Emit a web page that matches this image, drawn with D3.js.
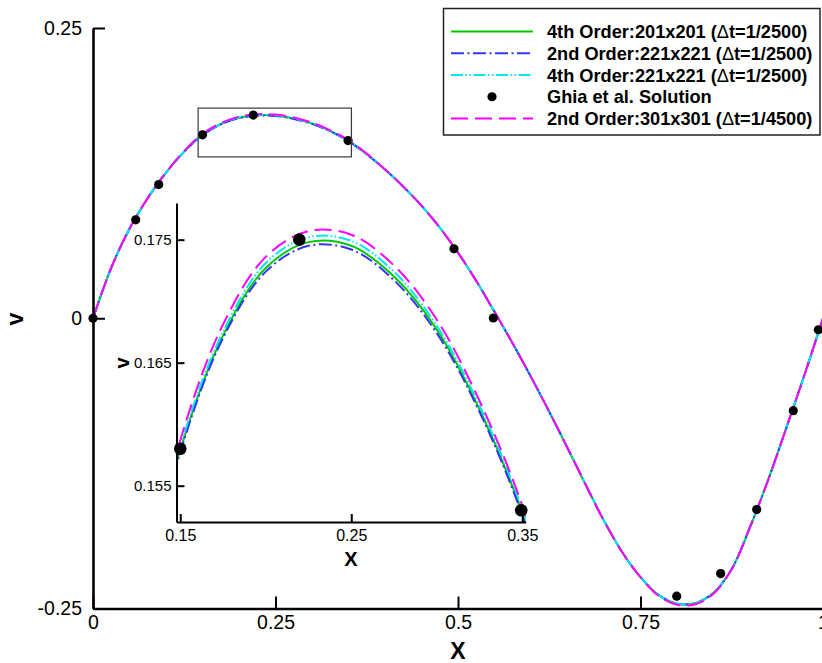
<!DOCTYPE html>
<html>
<head>
<meta charset="utf-8">
<script src="https://cdn.jsdelivr.net/npm/d3@7"></script>
<style>
  body { margin: 0; background: #fff; }
  svg { display: block; font-family: "Liberation Sans", Arial, Helvetica, sans-serif; }
</style>
</head>
<body>
<svg id="chart" width="822" height="663"></svg>
<script>
// ---- data: v-velocity along the horizontal centreline of the cavity ----
const xGrid = [0, 0.025, 0.05, 0.075, 0.1, 0.125, 0.15, 0.175, 0.2, 0.225, 0.25, 0.275, 0.3, 0.325, 0.35,
  0.375, 0.4, 0.425, 0.45, 0.475, 0.5, 0.525, 0.55, 0.575, 0.6, 0.625, 0.65, 0.675, 0.7, 0.725, 0.75,
  0.775, 0.8, 0.825, 0.85, 0.875, 0.9, 0.925, 0.95, 0.975, 1];

const vFourth201 = [0, 0.0435, 0.0771, 0.1035, 0.1255, 0.1435, 0.1579, 0.1672, 0.1727, 0.1748, 0.1745,
  0.1720, 0.1677, 0.1612, 0.1528, 0.1413, 0.1282, 0.1134, 0.0970, 0.0781, 0.0565, 0.0322, 0.0055,
  -0.0218, -0.0505, -0.0805, -0.1117, -0.1435, -0.1745, -0.2015, -0.2230, -0.2385, -0.2458, -0.2454,
  -0.2365, -0.2160, -0.1800, -0.1390, -0.0940, -0.0480, 0];

const vSecond221 = [0, 0.0435, 0.0771, 0.1035, 0.1255, 0.1434, 0.1577, 0.1670, 0.1724, 0.1745, 0.1742,
  0.1717, 0.1674, 0.1610, 0.1526, 0.1412, 0.1282, 0.1134, 0.0970, 0.0781, 0.0565, 0.0322, 0.0055,
  -0.0218, -0.0505, -0.0805, -0.1117, -0.1435, -0.1745, -0.2015, -0.2230, -0.2385, -0.2458, -0.2454,
  -0.2365, -0.2160, -0.1800, -0.1390, -0.0940, -0.0480, 0];

const vFourth221 = [0, 0.0435, 0.0771, 0.1035, 0.1255, 0.1437, 0.1582, 0.1675, 0.1731, 0.1752, 0.1749,
  0.1724, 0.1680, 0.1615, 0.1531, 0.1415, 0.1282, 0.1134, 0.0970, 0.0781, 0.0565, 0.0322, 0.0055,
  -0.0218, -0.0505, -0.0805, -0.1117, -0.1435, -0.1745, -0.2015, -0.2230, -0.2385, -0.2458, -0.2454,
  -0.2365, -0.2160, -0.1800, -0.1390, -0.0940, -0.0480, 0];

const vSecond301 = [0, 0.0435, 0.0771, 0.1035, 0.1255, 0.1442, 0.1587, 0.1681, 0.1736, 0.1757, 0.1754,
  0.1729, 0.1685, 0.1619, 0.1534, 0.1418, 0.1282, 0.1134, 0.0970, 0.0781, 0.0565, 0.0322, 0.0055,
  -0.0218, -0.0505, -0.0805, -0.1117, -0.1435, -0.1745, -0.2015, -0.2230, -0.2392, -0.2468, -0.2464,
  -0.2372, -0.2160, -0.1800, -0.1390, -0.0940, -0.0480, 0];

// Ghia et al. reference points
const ghiaX = [0, 0.0585, 0.0900, 0.1500, 0.2196, 0.3494, 0.4945, 0.5484, 0.7996, 0.8598, 0.9092, 0.9593, 0.9936];
const ghiaV = [0, 0.0848, 0.1151, 0.1580, 0.1750, 0.1530, 0.0598, 0.0002, -0.2394, -0.2199, -0.1648, -0.0796, -0.0099];

const legendLabels = [
  ["4th Order:201x201 (", "Δ", "t=1/2500)"],
  ["2nd Order:221x221 (", "Δ", "t=1/2500)"],
  ["4th Order:221x221 (", "Δ", "t=1/2500)"],
  ["Ghia et al. Solution"],
  ["2nd Order:301x301 (", "Δ", "t=1/4500)"]
];

const xTicks = [0, 0.25, 0.5, 0.75, 1];
const xTickLabels = ["0", "0.25", "0.5", "0.75", "1"];
const vTicks = [-0.25, 0, 0.25];
const vTickLabels = ["-0.25", "0", "0.25"];

const insetXTicks = [0.15, 0.25, 0.35];
const insetXTickLabels = ["0.15", "0.25", "0.35"];
const insetVTicks = [0.155, 0.165, 0.175];
const insetVTickLabels = ["0.155", "0.165", "0.175"];

// zoom window shown in the inset
const zoomX = [0.144, 0.354];
const zoomV = [0.139, 0.181];
const insetXDomain = [0.1478, 0.352];
const insetVDomain = [0.15205, 0.17798];

// ---- styling of each series ----
const series = [
  { values: vFourth201, color: "#00c800", dash: null },
  { values: vSecond221, color: "#3434ff", dash: "13,3.5,2,3.5" },
  { values: vFourth221, color: "#00e8e8", dash: "12,2.5,1.5,2.5,1.5,2.5" },
  { values: vSecond301, color: "#ff00ff", dash: "17,7" }
];
const legendStyles = [
  { type: "line", s: series[0] },
  { type: "line", s: series[1] },
  { type: "line", s: series[2] },
  { type: "dot" },
  { type: "line", s: series[3] }
];

const svg = d3.select("#chart");

// ---- main axes ----
const x = d3.scaleLinear().domain([0, 1]).range([93, 823]);
const y = d3.scaleLinear().domain([-0.25, 0.25]).range([608.5, 28]);

const line = (sx, sy) => d3.line()
  .x((d, i) => sx(xGrid[i]))
  .y(d => sy(d))
  .curve(d3.curveCatmullRom.alpha(0.5));

const mainG = svg.append("g");
const mainLine = line(x, y);
series.forEach(s => {
  mainG.append("path")
    .attr("d", mainLine(s.values))
    .attr("fill", "none")
    .attr("stroke", s.color)
    .attr("stroke-width", 2)
    .attr("stroke-dasharray", s.dash);
});
mainG.selectAll("circle.ghia").data(ghiaX).join("circle")
  .attr("class", "ghia")
  .attr("cx", d => x(d))
  .attr("cy", (d, i) => y(ghiaV[i]))
  .attr("r", 4.6)
  .attr("fill", "#000");

// zoom window rectangle
svg.append("rect")
  .attr("x", x(zoomX[0])).attr("y", y(zoomV[1]))
  .attr("width", x(zoomX[1]) - x(zoomX[0]))
  .attr("height", y(zoomV[0]) - y(zoomV[1]))
  .attr("fill", "none").attr("stroke", "#3a3a3a").attr("stroke-width", 1.2);

// axis lines and inward ticks
const xAxis = d3.axisBottom(x).tickValues(xTicks).tickFormat((d, i) => xTickLabels[i])
  .tickSizeInner(-12).tickSizeOuter(0).tickPadding(20.5);
const gx = svg.append("g").attr("transform", `translate(0,${y(-0.25)})`).call(xAxis);
gx.select(".domain").attr("stroke", "#000").attr("stroke-width", 2.6);
gx.selectAll(".tick line").attr("stroke", "#000").attr("stroke-width", 2);
gx.selectAll(".tick text").attr("font-size", 19.5).attr("fill", "#000").attr("dy", "0");

const yAxis = d3.axisLeft(y).tickValues(vTicks).tickFormat((d, i) => vTickLabels[i])
  .tickSizeInner(-12).tickSizeOuter(0).tickPadding(11);
const gy = svg.append("g").attr("transform", `translate(${x(0)},0)`).call(yAxis);
gy.select(".domain").attr("stroke", "#000").attr("stroke-width", 2.6);
gy.selectAll(".tick line").attr("stroke", "#000").attr("stroke-width", 2);
gy.selectAll(".tick text").attr("font-size", 19.5).attr("fill", "#000");
svg.selectAll(".tick text").attr("font-family", "Liberation Sans, Arial, sans-serif");

svg.append("text").attr("x", 458).attr("y", 659).attr("text-anchor", "middle")
  .attr("font-size", 23).attr("font-weight", "bold").text("X");
svg.append("text").attr("transform", "translate(23,319) rotate(-90)").attr("text-anchor", "middle")
  .attr("font-size", 23).attr("font-weight", "bold").text("v");

// ---- inset ----
const ix = d3.scaleLinear().domain(insetXDomain).range([176.5, 176.5 + (insetXDomain[1] - insetXDomain[0]) * 1710]);
const iy = d3.scaleLinear().domain(insetVDomain).range([522, 203]);

svg.append("clipPath").attr("id", "insetClip").append("rect")
  .attr("x", ix.range()[0]).attr("y", iy.range()[1])
  .attr("width", ix.range()[1] - ix.range()[0])
  .attr("height", iy.range()[0] - iy.range()[1]);

const insetG = svg.append("g").attr("clip-path", "url(#insetClip)");
const insetLine = line(ix, iy);
series.forEach(s => {
  insetG.append("path")
    .attr("d", insetLine(s.values))
    .attr("fill", "none")
    .attr("stroke", s.color)
    .attr("stroke-width", 2)
    .attr("stroke-dasharray", s.dash);
});
svg.append("g").selectAll("circle").data(ghiaX.map((d, i) => [d, ghiaV[i]])
    .filter(p => p[0] >= insetXDomain[0] - 0.003 && p[0] <= insetXDomain[1] + 0.003))
  .join("circle")
  .attr("cx", d => ix(d[0])).attr("cy", d => iy(d[1]))
  .attr("r", 6.3).attr("fill", "#000");

const ixAxis = d3.axisBottom(ix).tickValues(insetXTicks).tickFormat((d, i) => insetXTickLabels[i])
  .tickSizeInner(-8).tickSizeOuter(0).tickPadding(8);
const gix = svg.append("g").attr("transform", `translate(0,${iy.range()[0]})`).call(ixAxis);
gix.select(".domain").attr("stroke", "#000").attr("stroke-width", 2);
gix.selectAll(".tick line").attr("stroke", "#000").attr("stroke-width", 2);
gix.selectAll(".tick text").attr("font-size", 16).attr("fill", "#000");

const iyAxis = d3.axisLeft(iy).tickValues(insetVTicks).tickFormat((d, i) => insetVTickLabels[i])
  .tickSizeInner(-8).tickSizeOuter(0).tickPadding(5);
const giy = svg.append("g").attr("transform", `translate(${ix.range()[0]},0)`).call(iyAxis);
giy.select(".domain").attr("stroke", "#000").attr("stroke-width", 2);
giy.selectAll(".tick line").attr("stroke", "#000").attr("stroke-width", 2);
giy.selectAll(".tick text").attr("font-size", 15).attr("fill", "#000");
svg.selectAll(".tick text").attr("font-family", "Liberation Sans, Arial, sans-serif");

svg.append("text").attr("x", 351).attr("y", 566).attr("text-anchor", "middle")
  .attr("font-size", 20).attr("font-weight", "bold").text("X");
svg.append("text").attr("transform", "translate(129,363) rotate(-90)").attr("text-anchor", "middle")
  .attr("font-size", 20).attr("font-weight", "bold").text("v");

// ---- legend ----
const legend = svg.append("g");
legend.append("rect").attr("x", 443.5).attr("y", 8.5).attr("width", 376.5).attr("height", 126.5)
  .attr("fill", "#fff").attr("stroke", "#222").attr("stroke-width", 1.5);
const rowY = d3.scalePoint().domain(d3.range(legendLabels.length)).range([31.5, 118.5]);
legendStyles.forEach((st, i) => {
  const yy = rowY(i);
  if (st.type === "line") {
    legend.append("line").attr("x1", 451).attr("x2", 533).attr("y1", yy).attr("y2", yy)
      .attr("stroke", st.s.color).attr("stroke-width", 2).attr("stroke-dasharray", st.s.dash);
  } else {
    legend.append("circle").attr("cx", 492).attr("cy", yy).attr("r", 4.6).attr("fill", "#000");
  }
  const t = legend.append("text").attr("x", 547).attr("y", yy).attr("dy", "0.36em")
    .attr("font-size", 18.2).attr("font-weight", "bold");
  legendLabels[i].forEach(part => {
    t.append("tspan").attr("font-weight", part === "Δ" ? "normal" : "bold").text(part);
  });
});
</script>
</body>
</html>
